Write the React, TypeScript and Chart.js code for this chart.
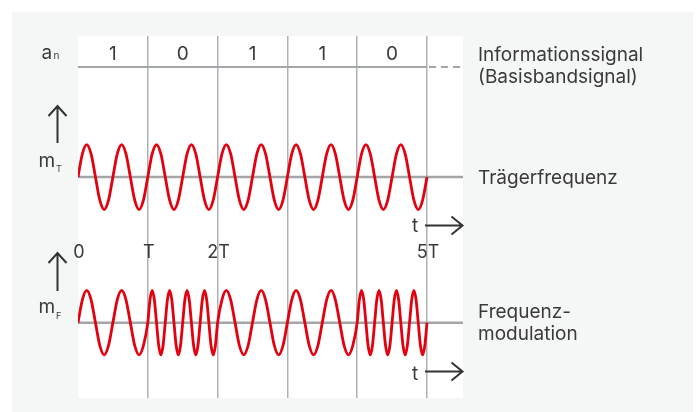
import { useEffect, useRef } from "react";
import { Chart, registerables } from "chart.js";
Chart.register(...registerables);

// ---- data ----
const bits = ["1", "0", "1", "1", "0"];
const boundaryTimes = [1, 2, 3, 4, 5];
const timeTickValues = [0, 1, 2, 5];
const timeTickLabels = ["0", "T", "2T", "5T"];
const xMax = 5.516;

// carrier: eighth-cycle readings (time in T, normalised amplitude)
const carrierT = [
  0, 0.0625, 0.125, 0.1875, 0.25, 0.3125, 0.375, 0.4375,
  0.5, 0.5625, 0.625, 0.6875, 0.75, 0.8125, 0.875, 0.9375,
  1, 1.0625, 1.125, 1.1875, 1.25, 1.3125, 1.375, 1.4375,
  1.5, 1.5625, 1.625, 1.6875, 1.75, 1.8125, 1.875, 1.9375,
  2, 2.0625, 2.125, 2.1875, 2.25, 2.3125, 2.375, 2.4375,
  2.5, 2.5625, 2.625, 2.6875, 2.75, 2.8125, 2.875, 2.9375,
  3, 3.0625, 3.125, 3.1875, 3.25, 3.3125, 3.375, 3.4375,
  3.5, 3.5625, 3.625, 3.6875, 3.75, 3.8125, 3.875, 3.9375,
  4, 4.0625, 4.125, 4.1875, 4.25, 4.3125, 4.375, 4.4375,
  4.5, 4.5625, 4.625, 4.6875, 4.75, 4.8125, 4.875, 4.9375,
  5,
];
const carrierV = [
  0, 0.71, 1, 0.71, 0, -0.71, -1, -0.71,
  0, 0.71, 1, 0.71, 0, -0.71, -1, -0.71,
  0, 0.71, 1, 0.71, 0, -0.71, -1, -0.71,
  0, 0.71, 1, 0.71, 0, -0.71, -1, -0.71,
  0, 0.71, 1, 0.71, 0, -0.71, -1, -0.71,
  0, 0.71, 1, 0.71, 0, -0.71, -1, -0.71,
  0, 0.71, 1, 0.71, 0, -0.71, -1, -0.71,
  0, 0.71, 1, 0.71, 0, -0.71, -1, -0.71,
  0, 0.71, 1, 0.71, 0, -0.71, -1, -0.71,
  0, 0.71, 1, 0.71, 0, -0.71, -1, -0.71,
  0,
];

// frequency-modulated signal: bit 1 -> 2 cycles per T, bit 0 -> 4 cycles per T
const fmT = [
  0, 0.0625, 0.125, 0.1875, 0.25, 0.3125, 0.375, 0.4375,
  0.5, 0.5625, 0.625, 0.6875, 0.75, 0.8125, 0.875, 0.9375,
  1, 1.03125, 1.0625, 1.09375, 1.125, 1.15625, 1.1875, 1.21875,
  1.25, 1.28125, 1.3125, 1.34375, 1.375, 1.40625, 1.4375, 1.46875,
  1.5, 1.53125, 1.5625, 1.59375, 1.625, 1.65625, 1.6875, 1.71875,
  1.75, 1.78125, 1.8125, 1.84375, 1.875, 1.90625, 1.9375, 1.96875,
  2, 2.0625, 2.125, 2.1875, 2.25, 2.3125, 2.375, 2.4375,
  2.5, 2.5625, 2.625, 2.6875, 2.75, 2.8125, 2.875, 2.9375,
  3, 3.0625, 3.125, 3.1875, 3.25, 3.3125, 3.375, 3.4375,
  3.5, 3.5625, 3.625, 3.6875, 3.75, 3.8125, 3.875, 3.9375,
  4, 4.03125, 4.0625, 4.09375, 4.125, 4.15625, 4.1875, 4.21875,
  4.25, 4.28125, 4.3125, 4.34375, 4.375, 4.40625, 4.4375, 4.46875,
  4.5, 4.53125, 4.5625, 4.59375, 4.625, 4.65625, 4.6875, 4.71875,
  4.75, 4.78125, 4.8125, 4.84375, 4.875, 4.90625, 4.9375, 4.96875,
  5,
];
const fmV = [
  0, 0.71, 1, 0.71, 0, -0.71, -1, -0.71,
  0, 0.71, 1, 0.71, 0, -0.71, -1, -0.71,
  0, 0.71, 1, 0.71, 0, -0.71, -1, -0.71,
  0, 0.71, 1, 0.71, 0, -0.71, -1, -0.71,
  0, 0.71, 1, 0.71, 0, -0.71, -1, -0.71,
  0, 0.71, 1, 0.71, 0, -0.71, -1, -0.71,
  0, 0.71, 1, 0.71, 0, -0.71, -1, -0.71,
  0, 0.71, 1, 0.71, 0, -0.71, -1, -0.71,
  0, 0.71, 1, 0.71, 0, -0.71, -1, -0.71,
  0, 0.71, 1, 0.71, 0, -0.71, -1, -0.71,
  0, 0.71, 1, 0.71, 0, -0.71, -1, -0.71,
  0, 0.71, 1, 0.71, 0, -0.71, -1, -0.71,
  0, 0.71, 1, 0.71, 0, -0.71, -1, -0.71,
  0, 0.71, 1, 0.71, 0, -0.71, -1, -0.71,
  0,
];

// ---- styles ----
const FONT = "Inter, 'Open Sans', sans-serif";
const TEXT = "#3a3a3a";
const PANEL = "#f5f6f6";
const GRID = "#aeb1b4";
const BASE = "#a3a6a9";
const RED = "#e3000f";

function arrowUp(ctx: CanvasRenderingContext2D, x: number, y1: number, y2: number) {
  ctx.beginPath();
  ctx.moveTo(x, y2);
  ctx.lineTo(x, y1);
  ctx.moveTo(x - 9, y1 + 10);
  ctx.lineTo(x, y1);
  ctx.lineTo(x + 9, y1 + 10);
  ctx.stroke();
}
function arrowRight(ctx: CanvasRenderingContext2D, x1: number, x2: number, y: number) {
  ctx.beginPath();
  ctx.moveTo(x1, y);
  ctx.lineTo(x2, y);
  ctx.moveTo(x2 - 11, y - 9);
  ctx.lineTo(x2, y);
  ctx.lineTo(x2 - 11, y + 9);
  ctx.stroke();
}

const decor = {
  id: "decor",
  beforeDraw(chart: any) {
    const { ctx, chartArea: a } = chart;
    ctx.save();
    ctx.fillStyle = PANEL;
    ctx.fillRect(12, 12, 681, 400);
    ctx.fillStyle = "#ffffff";
    ctx.fillRect(a.left, a.top, a.right - a.left, a.bottom - a.top);
    ctx.restore();
  },
  afterDraw(chart: any) {
    const { ctx, chartArea: a } = chart;
    const xs = chart.scales.x;
    ctx.save();
    // info row line
    ctx.strokeStyle = BASE;
    ctx.lineWidth = 2;
    ctx.beginPath();
    ctx.moveTo(a.left, 67);
    ctx.lineTo(xs.getPixelForValue(5), 67);
    ctx.stroke();
    ctx.setLineDash([7, 5]);
    ctx.beginPath();
    ctx.moveTo(xs.getPixelForValue(5) + 2, 67);
    ctx.lineTo(a.right, 67);
    ctx.stroke();
    ctx.setLineDash([]);

    ctx.fillStyle = TEXT;
    ctx.textBaseline = "alphabetic";
    const txt = (s: string, x: number, y: number, size: number, align: CanvasTextAlign = "left") => {
      ctx.font = `${size}px ${FONT}`;
      ctx.textAlign = align;
      ctx.fillText(s, x, y);
    };
    bits.forEach((b, i) => txt(b, xs.getPixelForValue(i + 0.5), 60, 19, "center"));
    timeTickValues.forEach((v, i) => txt(timeTickLabels[i], xs.getPixelForValue(v) + 1, 258, 18, "center"));

    // left labels
    txt("a", 41.5, 59, 19);
    txt("n", 53.5, 59, 10);
    txt("m", 38.5, 166.5, 19);
    txt("T", 56, 171.5, 9);
    txt("m", 38.5, 313, 19);
    txt("F", 56, 318.5, 9);

    // right labels
    txt("Informationssignal", 478, 61, 19);
    txt("(Basisbandsignal)", 478, 83, 19);
    txt("Trägerfrequenz", 478, 184, 19);
    txt("Frequenz-", 478, 318, 19);
    txt("modulation", 478, 340, 19);
    txt("t", 415, 232, 19, "center");
    txt("t", 415, 380, 19, "center");

    ctx.strokeStyle = "#333333";
    ctx.lineWidth = 2;
    arrowUp(ctx, 57.5, 106, 143);
    arrowUp(ctx, 57.5, 253, 291);
    arrowRight(ctx, 425, 462.5, 225.5);
    arrowRight(ctx, 425, 462.5, 371.5);
    ctx.restore();
  },
};

export default function App() {
  const ref = useRef<HTMLCanvasElement>(null);
  useEffect(() => {
    if (!ref.current) return;
    const carrier = carrierT.map((t, i) => ({ x: t, y: carrierV[i] }));
    const fm = fmT.map((t, i) => ({ x: t, y: fmV[i] }));
    const chart = new Chart(ref.current, {
      type: "line",
      data: {
        datasets: [
          {
            data: carrier, yAxisID: "yC", borderColor: RED, borderWidth: 2.8,
            pointRadius: 0, cubicInterpolationMode: "monotone", order: 0,
          },
          {
            data: fm, yAxisID: "yF", borderColor: RED, borderWidth: 2.8,
            pointRadius: 0, cubicInterpolationMode: "monotone", order: 0,
          },
          {
            data: [{ x: 0, y: 0 }, { x: xMax, y: 0 }], yAxisID: "yC", borderColor: BASE,
            borderWidth: 2.5, pointRadius: 0, order: 1,
          },
          {
            data: [{ x: 0, y: 0 }, { x: xMax, y: 0 }], yAxisID: "yF", borderColor: BASE,
            borderWidth: 2.5, pointRadius: 0, order: 1,
          },
        ],
      },
      options: {
        responsive: false,
        animation: false,
        devicePixelRatio: 1,
        layout: { padding: { left: 78, right: 233, top: 36, bottom: 14 } },
        plugins: { legend: { display: false }, tooltip: { enabled: false } },
        scales: {
          x: {
            type: "linear", min: 0, max: xMax,
            afterBuildTicks: (axis: any) => { axis.ticks = boundaryTimes.map((v) => ({ value: v })); },
            ticks: { display: false },
            grid: { color: GRID, lineWidth: 1.5, drawTicks: false },
            border: { display: false },
          },
          yC: { type: "linear", min: -6.8, max: 4.34, display: false },
          yF: { type: "linear", min: -2.34, max: 8.9, display: false },
        },
      },
      plugins: [decor],
    } as any);
    return () => chart.destroy();
  }, []);
  return (
    <div style={{ position: "absolute", left: 0, top: 0, width: 696, height: 412 }}>
      <canvas ref={ref} width={696} height={412} />
    </div>
  );
}
